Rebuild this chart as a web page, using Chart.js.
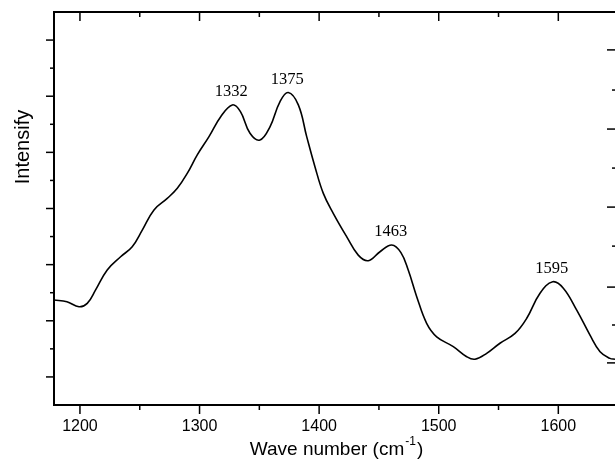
<!DOCTYPE html>
<html>
<head>
<meta charset="utf-8">
<script src="https://cdn.jsdelivr.net/npm/chart.js@4.4.0/dist/chart.umd.min.js"></script>
<style>
  html, body { margin: 0; padding: 0; background: #fff; }
</style>
</head>
<body>
<canvas id="raman-chart" width="615" height="459"></canvas>
<script>
// spectrum
const waveNumbers = [1178.3, 1189.1, 1199.2, 1206.1, 1213.1, 1222.8, 1234.0, 1243.7, 1252.1, 1261.9,
  1273.0, 1281.4, 1289.7, 1298.1, 1307.9, 1317.7, 1327.4, 1334.2, 1342.2, 1350.5,
  1358.9, 1367.3, 1374.2, 1382.6, 1389.6, 1396.5, 1403.5, 1411.8, 1423.0, 1432.7,
  1441.1, 1450.9, 1460.7, 1468.4, 1474.5, 1481.6, 1489.9, 1498.3, 1512.2, 1523.4,
  1530.3, 1540.1, 1551.2, 1563.8, 1573.6, 1584.7, 1595.3, 1604.2, 1615.4, 1626.5,
  1634.9, 1643.2, 1647.4];
const intensity = [3.74, 3.68, 3.50, 3.62, 4.10, 4.81, 5.28, 5.64, 6.23, 6.95,
  7.36, 7.72, 8.25, 8.91, 9.56, 10.27, 10.69, 10.45, 9.68, 9.44,
  9.91, 10.81, 11.13, 10.69, 9.56, 8.49, 7.54, 6.83, 6.00, 5.34,
  5.14, 5.46, 5.70, 5.43, 4.81, 3.86, 2.91, 2.43, 2.08, 1.72,
  1.63, 1.84, 2.20, 2.55, 3.09, 3.98, 4.39, 4.16, 3.38, 2.49,
  1.90, 1.66, 1.63];

const peakLabels = ['1332', '1375', '1463', '1595'];
const peakNear = [1327, 1374, 1461, 1595];
// stray tick marks on the right edge (in intensity units)
const rightTicks = [12.65, 11.22, 9.83, 8.44, 7.05, 5.66, 4.20, 2.85, 1.50];

const xMin = 1178.3, xMax = 1647.4;
const yMin = 0, yMax = 14;

function line(ctx, x1, y1, x2, y2) {
  ctx.beginPath();
  ctx.moveTo(x1, y1);
  ctx.lineTo(x2, y2);
  ctx.stroke();
}

const decorations = {
  id: 'decorations',
  afterDraw(chart) {
    const { ctx, chartArea: a, scales: { x, y } } = chart;
    ctx.save();
    ctx.strokeStyle = '#000';
    ctx.fillStyle = '#000';

    // top frame line
    ctx.lineWidth = 2;
    line(ctx, a.left, a.top, a.right, a.top);

    // tick marks
    ctx.lineWidth = 1.5;
    x.ticks.forEach(t => {
      const px = x.getPixelForValue(t.value);
      const len = t.value % 100 === 0 ? 9 : 5;
      line(ctx, px, a.bottom, px, a.bottom + len);
      line(ctx, px, a.top, px, a.top + len);
    });
    y.ticks.forEach(t => {
      if (t.value <= yMin || t.value >= yMax) return;
      const py = y.getPixelForValue(t.value);
      line(ctx, a.left - (t.value % 2 === 1 ? 8 : 4), py, a.left, py);
    });
    rightTicks.forEach((v, i) => {
      const py = y.getPixelForValue(v);
      line(ctx, a.right - (i % 2 ? 3 : 8), py, a.right, py);
    });

    // peak labels
    ctx.font = '16.5px "Liberation Serif"';
    ctx.textAlign = 'center';
    ctx.textBaseline = 'alphabetic';
    peakLabels.forEach((lbl, k) => {
      let best = -1;
      waveNumbers.forEach((w, i) => {
        if (Math.abs(w - peakNear[k]) < 8 && (best < 0 || intensity[i] > intensity[best])) best = i;
      });
      const px = x.getPixelForValue(waveNumbers[best]);
      const py = y.getPixelForValue(intensity[best]);
      ctx.fillText(lbl, px - 1, py - 9);
    });

    // y title
    ctx.save();
    ctx.font = '20px "Liberation Sans"';
    ctx.translate(a.left - 25, 147);
    ctx.rotate(-Math.PI / 2);
    ctx.textAlign = 'center';
    ctx.fillText('Intensify', 0, 0);
    ctx.restore();

    // x title with superscript
    const main = 'Wave number (cm', sup = '-1', close = ')';
    ctx.textAlign = 'left';
    ctx.font = '19px "Liberation Sans"';
    const w1 = ctx.measureText(main).width, w3 = ctx.measureText(close).width;
    ctx.font = '12px "Liberation Sans"';
    const w2 = ctx.measureText(sup).width;
    let tx = (a.left + a.right) / 2 + 2 - (w1 + w2 + w3 + 2) / 2;
    const base = 455;
    ctx.font = '19px "Liberation Sans"';
    ctx.fillText(main, tx, base);
    tx += w1 + 1;
    ctx.font = '12px "Liberation Sans"';
    ctx.fillText(sup, tx, base - 10);
    tx += w2 + 1;
    ctx.font = '19px "Liberation Sans"';
    ctx.fillText(close, tx, base);

    ctx.restore();
  }
};

const ctx = document.getElementById('raman-chart');
new Chart(ctx, {
  type: 'line',
  data: {
    datasets: [{
      label: 'Intensity',
      data: waveNumbers.map((w, i) => ({ x: w, y: intensity[i] })),
      borderColor: '#000',
      borderWidth: 1.6,
      pointRadius: 0,
      fill: false,
      tension: 0.4
    }]
  },
  options: {
    responsive: false,
    animation: false,
    layout: { padding: { top: 12, right: 0, bottom: 0, left: 0 } },
    plugins: {
      legend: { display: false },
      tooltip: { enabled: false }
    },
    scales: {
      x: {
        type: 'linear',
        min: xMin,
        max: xMax,
        afterFit: (scale) => { scale.height = 54; },
        grid: { display: false, drawTicks: false },
        border: { display: true, color: '#000', width: 2 },
        ticks: {
          stepSize: 50,
          includeBounds: false,
          autoSkip: false,
          maxRotation: 0,
          padding: 12,
          color: '#000',
          font: { family: 'Liberation Sans', size: 16 },
          callback: (v) => (v % 100 === 0 ? String(v) : '')
        }
      },
      y: {
        type: 'linear',
        min: yMin,
        max: yMax,
        afterFit: (scale) => { scale.width = 54; },
        grid: { display: false, drawTicks: false },
        border: { display: true, color: '#000', width: 2 },
        ticks: { stepSize: 1, display: false }
      }
    }
  },
  plugins: [decorations]
});
</script>
</body>
</html>
